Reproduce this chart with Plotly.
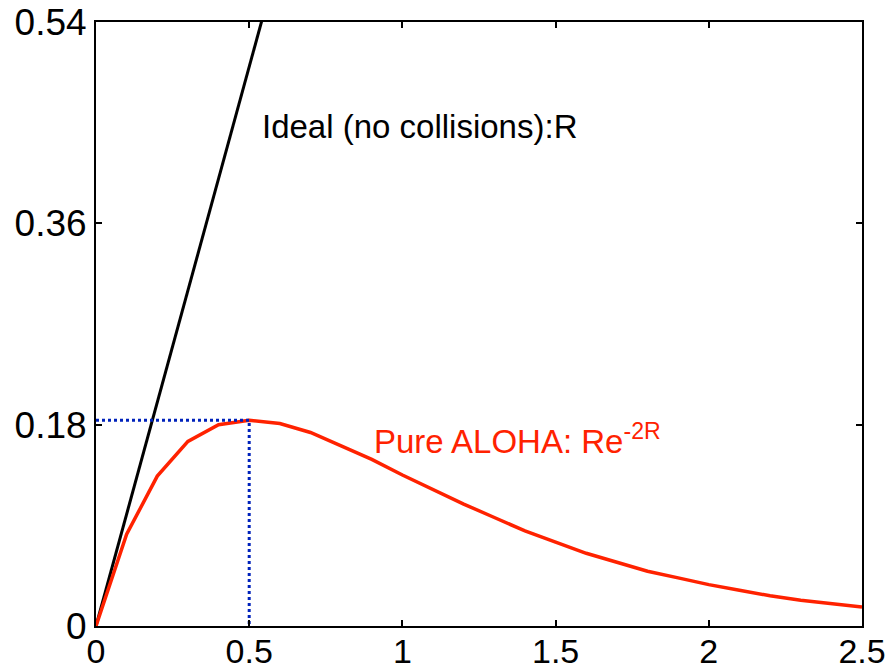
import plotly.graph_objects as go

# Data
r_vals = [0.0, 0.1, 0.2, 0.3, 0.4, 0.5, 0.6, 0.7, 0.8, 0.9, 1.0, 1.1, 1.2, 1.3,
          1.4, 1.5, 1.6, 1.7, 1.8, 1.9, 2.0, 2.1, 2.2, 2.3, 2.4, 2.5]
aloha_vals = [0.0, 0.082, 0.134, 0.165, 0.180, 0.184, 0.181, 0.173, 0.161, 0.149,
              0.135, 0.122, 0.109, 0.097, 0.085, 0.075, 0.065, 0.057, 0.049, 0.043,
              0.037, 0.032, 0.027, 0.023, 0.020, 0.017]
ideal_x = [0.0, 0.1, 0.2, 0.3, 0.4, 0.5, 0.6]
ideal_y = [0.0, 0.1, 0.2, 0.3, 0.4, 0.5, 0.6]
peak_x = [0.0, 0.5, 0.5]
peak_y = [0.184, 0.184, 0.0]

x_ticks = [0, 0.5, 1, 1.5, 2, 2.5]
x_labels = ["0", "0.5", "1", "1.5", "2", "2.5"]
y_ticks = [0, 0.18, 0.36, 0.54]
y_labels = ["0", "0.18", "0.36", "0.54"]

FONT = "Liberation Sans, Arial, Helvetica, sans-serif"

fig = go.Figure()
fig.add_trace(go.Scatter(x=ideal_x, y=ideal_y, mode="lines",
                         line=dict(color="black", width=3), showlegend=False))
fig.add_trace(go.Scatter(x=r_vals, y=aloha_vals, mode="lines",
                         line=dict(color="#FF2200", width=3.5), showlegend=False))
fig.add_trace(go.Scatter(x=peak_x, y=peak_y, mode="lines",
                         line=dict(color="#0022BB", width=3, dash="dot"), showlegend=False))

fig.add_annotation(x=0.535, y=0.447, xref="x", yref="y", text="Ideal (no collisions):R",
                   showarrow=False, xanchor="left", yanchor="middle",
                   font=dict(family=FONT, size=33, color="black"))
fig.add_annotation(x=0.9, y=0.167, xref="x", yref="y", text="Pure ALOHA: Re<sup>-2R</sup>",
                   showarrow=False, xanchor="left", yanchor="middle",
                   font=dict(family=FONT, size=33, color="#FF2200"))

axis_common = dict(showgrid=False, zeroline=False, showline=True, linecolor="black",
                   linewidth=2, mirror="ticks", ticks="inside", ticklen=6, tickwidth=1.5,
                   tickcolor="black", automargin=False)

fig.update_xaxes(range=[0, 2.5], tickmode="array", tickvals=x_ticks, ticktext=x_labels,
                 ticklabelstandoff=-6,
                 tickfont=dict(family=FONT, size=34, color="black"), **axis_common)
fig.update_yaxes(range=[0, 0.54], tickmode="array", tickvals=y_ticks, ticktext=y_labels,
                 tickfont=dict(family=FONT, size=37, color="black"), **axis_common)

fig.update_layout(width=891, height=670, margin=dict(l=96, r=29, t=22, b=44),
                  plot_bgcolor="white", paper_bgcolor="white")

fig.write_html("out.html")
